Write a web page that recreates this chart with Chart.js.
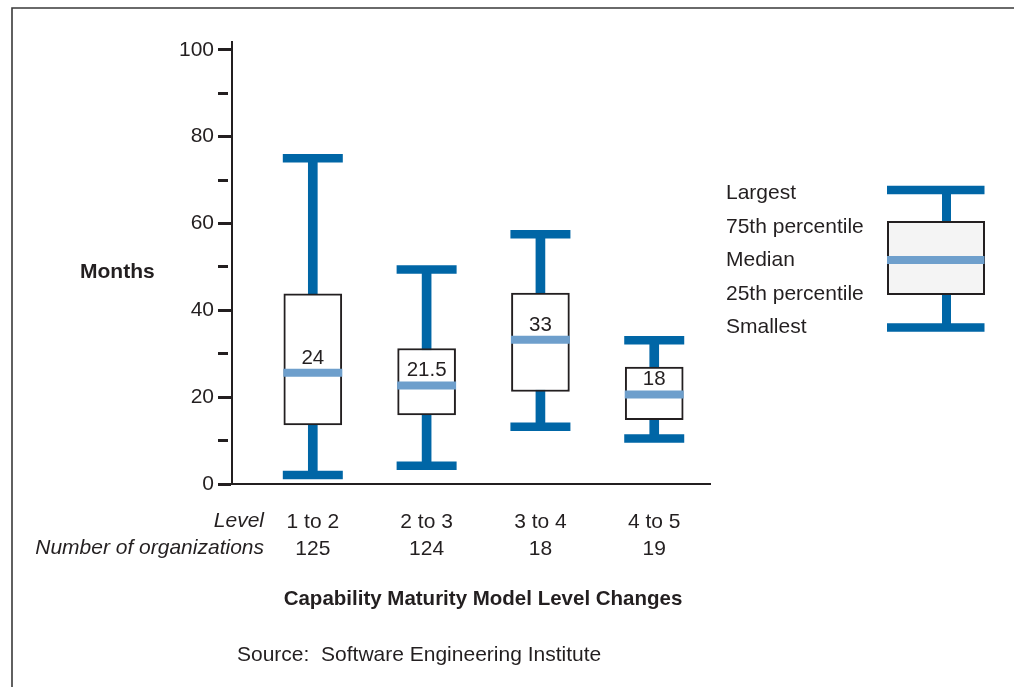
<!DOCTYPE html>
<html>
<head>
<meta charset="utf-8">
<title>Months to move up CMM levels</title>
<script src="https://cdn.jsdelivr.net/npm/chart.js@4/dist/chart.umd.min.js"></script>
<style>
  html, body { margin: 0; padding: 0; background: #ffffff; }
  #wrap { position: relative; width: 1014px; height: 687px; }
</style>
</head>
<body>
<div id="wrap"><canvas id="boxChart" width="1014" height="687"></canvas></div>
<script>
// Data
const levels = ['1 to 2', '2 to 3', '3 to 4', '4 to 5'];
const orgCounts = ['125', '124', '18', '19'];
const largest = [75, 49.4, 57.5, 33.1];
const pct75 = [43.8, 31.2, 44, 26.9];
const medians = [25.6, 22.7, 33.2, 20.6];
const medianLabels = ['24', '21.5', '33', '18'];
const pct25 = [13.6, 15.9, 21.3, 14.8];
const smallest = [2.1, 4.2, 13.2, 10.5];
const yTicks = [0, 10, 20, 30, 40, 50, 60, 70, 80, 90, 100];
const legendLabels = ['Largest', '75th percentile', 'Median', '25th percentile', 'Smallest'];

const DARK_BLUE = '#0066a6';
const LIGHT_BLUE = '#6e9fcc';
const INK = '#231f20';
const FONT = '"Liberation Sans", Arial, Helvetica, sans-serif';

function toPoints(values) {
    return values.map((v, i) => ({ x: i, y: v }));
}

// Extra text, frame and the key on the right
const decorPlugin = {
    id: 'decor',
    afterDatasetsDraw(chart) {
        const ctx = chart.ctx;
        const xs = chart.scales.x;
        const ys = chart.scales.y;
        ctx.save();
        ctx.fillStyle = INK;
        ctx.font = '20.5px ' + FONT;
        ctx.textAlign = 'center';
        ctx.textBaseline = 'middle';
        medians.forEach((m, i) => {
            ctx.fillText(medianLabels[i], xs.getPixelForValue(i), ys.getPixelForValue(m) - 15);
        });
        ctx.restore();
    },
    afterDraw(chart) {
        const ctx = chart.ctx;
        ctx.save();

        // frame
        ctx.strokeStyle = '#3a3a3a';
        ctx.lineWidth = 1.6;
        ctx.beginPath();
        ctx.moveTo(12, 690);
        ctx.lineTo(12, 8);
        ctx.lineTo(1016, 8);
        ctx.stroke();

        ctx.fillStyle = INK;
        ctx.textBaseline = 'middle';

        // y axis title
        ctx.font = 'bold 21px ' + FONT;
        ctx.textAlign = 'left';
        ctx.fillText('Months', 80, 272);

        // row labels under the axis
        ctx.font = 'italic 21px ' + FONT;
        ctx.textAlign = 'right';
        ctx.fillText('Level', 264, 521);
        ctx.fillText('Number of organizations', 264, 548);

        // x axis title
        ctx.font = 'bold 20.5px ' + FONT;
        ctx.textAlign = 'center';
        ctx.fillText('Capability Maturity Model Level Changes', 483, 599);

        // source
        ctx.font = '21px ' + FONT;
        ctx.textAlign = 'left';
        ctx.fillText('Source:  Software Engineering Institute', 237, 655);

        // key labels
        legendLabels.forEach((t, i) => {
            ctx.fillText(t, 726, 193.5 + i * 33.5);
        });

        // key glyph
        ctx.strokeStyle = DARK_BLUE;
        ctx.lineWidth = 9;
        ctx.beginPath();
        ctx.moveTo(946.5, 190);
        ctx.lineTo(946.5, 327);
        ctx.stroke();
        ctx.fillStyle = '#f4f4f4';
        ctx.fillRect(888, 222, 96, 72);
        ctx.strokeStyle = INK;
        ctx.lineWidth = 2;
        ctx.strokeRect(888, 222, 96, 72);
        ctx.lineWidth = 8.5;
        ctx.strokeStyle = DARK_BLUE;
        ctx.beginPath();
        ctx.moveTo(887, 190); ctx.lineTo(984.5, 190);
        ctx.moveTo(887, 327.5); ctx.lineTo(984.5, 327.5);
        ctx.stroke();
        ctx.strokeStyle = LIGHT_BLUE;
        ctx.lineWidth = 8;
        ctx.beginPath();
        ctx.moveTo(887, 260); ctx.lineTo(984.5, 260);
        ctx.stroke();

        ctx.restore();
    }
};

function initializeChart() {
    const ctx = document.getElementById('boxChart').getContext('2d');
    new Chart(ctx, {
        type: 'bar',
        data: {
            datasets: [
                {
                    label: 'Whisker',
                    data: levels.map((_, i) => ({ x: i, y: [smallest[i], largest[i]] })),
                    backgroundColor: DARK_BLUE,
                    borderWidth: 0,
                    barThickness: 9,
                    grouped: false,
                    order: 5
                },
                {
                    label: 'Box',
                    data: levels.map((_, i) => ({ x: i, y: [pct25[i], pct75[i]] })),
                    backgroundColor: '#ffffff',
                    borderColor: INK,
                    borderWidth: 2,
                    borderSkipped: false,
                    barThickness: 58,
                    grouped: false,
                    order: 4
                },
                {
                    type: 'line',
                    label: 'Largest',
                    data: toPoints(largest),
                    showLine: false,
                    pointStyle: 'line',
                    pointRadius: 30,
                    pointBorderWidth: 8.5,
                    pointBorderColor: DARK_BLUE,
                    borderColor: DARK_BLUE,
                    order: 3
                },
                {
                    type: 'line',
                    label: 'Smallest',
                    data: toPoints(smallest),
                    showLine: false,
                    pointStyle: 'line',
                    pointRadius: 30,
                    pointBorderWidth: 8.5,
                    pointBorderColor: DARK_BLUE,
                    borderColor: DARK_BLUE,
                    order: 3
                },
                {
                    type: 'line',
                    label: 'Median',
                    data: toPoints(medians),
                    showLine: false,
                    pointStyle: 'line',
                    pointRadius: 29.5,
                    pointBorderWidth: 8,
                    pointBorderColor: LIGHT_BLUE,
                    borderColor: LIGHT_BLUE,
                    order: 1
                }
            ]
        },
        options: {
            responsive: false,
            animation: false,
            events: [],
            layout: {
                padding: { left: 172, right: 304, top: 42, bottom: 103 }
            },
            plugins: {
                legend: { display: false },
                tooltip: { enabled: false },
                title: { display: false }
            },
            scales: {
                x: {
                    type: 'linear',
                    offset: false,
                    min: -0.71,
                    max: 3.49,
                    afterBuildTicks: (scale) => {
                        scale.ticks = levels.map((_, i) => ({ value: i }));
                    },
                    afterFit: (scale) => { scale.height = 100; },
                    grid: { drawOnChartArea: false, drawTicks: false },
                    border: { display: true, color: INK, width: 2 },
                    ticks: {
                        padding: 25,
                        color: INK,
                        font: { family: FONT, size: 21, lineHeight: 1.29 },
                        callback: (value) => [levels[value], orgCounts[value]]
                    }
                },
                y: {
                    min: 0,
                    max: 101.8,
                    afterBuildTicks: (scale) => {
                        scale.ticks = yTicks.map(v => ({ value: v }));
                    },
                    afterFit: (scale) => { scale.width = 60; },
                    grid: {
                        drawOnChartArea: false,
                        tickLength: 14,
                        tickWidth: 3,
                        tickColor: INK,
                        tickBorderDash: (c) => (c.tick && c.tick.value % 20 !== 0) ? [10, 40] : []
                    },
                    border: { display: true, color: INK, width: 2 },
                    ticks: {
                        padding: 4,
                        color: INK,
                        font: { family: FONT, size: 21 },
                        callback: (value) => (value % 20 === 0 ? String(value) : '')
                    }
                }
            }
        },
        plugins: [decorPlugin]
    });
}

document.addEventListener('DOMContentLoaded', initializeChart);
</script>
</body>
</html>
